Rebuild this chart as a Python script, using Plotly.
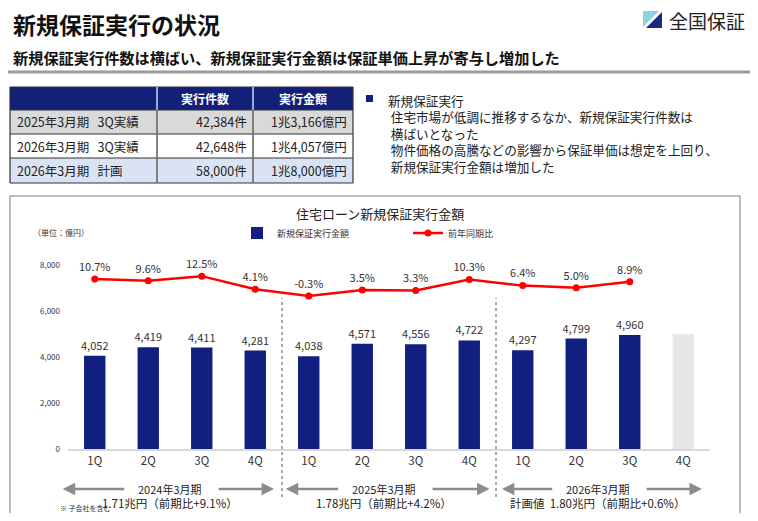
import plotly.graph_objects as go

W, H = 758, 521
# the page body keeps its default 8px margin, so the figure is drawn smaller and offset
OFF = 8
FW, FH = W - 2 * OFF, H - 2 * OFF
FONT = "Noto Sans CJK JP"
NAVY = "#101f80"

# chart data
fiscal_years = ["2024年3月期", "2025年3月期", "2026年3月期"]
quarters = ["1Q", "2Q", "3Q", "4Q"]
amounts = [4052, 4419, 4411, 4281, 4038, 4571, 4556, 4722, 4297, 4799, 4960]
plan_4q = 4990
yoy = [10.7, 9.6, 12.5, 4.1, -0.3, 3.5, 3.3, 10.3, 6.4, 5.0, 8.9]
year_totals = ["1.71兆円（前期比+9.1%）", "1.78兆円（前期比+4.2%）", "計画値  1.80兆円（前期比+0.6%）"]

# table data
table_header = ["", "実行件数", "実行金額"]
table_rows = [
    ["2025年3月期   3Q実績", "42,384件", "1兆3,166億円"],
    ["2026年3月期   3Q実績", "42,648件", "1兆4,057億円"],
    ["2026年3月期   計画", "58,000件", "1兆8,000億円"],
]
row_colors = ["#d9d9d9", "#ffffff", "#dae3f3"]

comment_lines = [
    "新規保証実行",
    "住宅市場が低調に推移するなか、新規保証実行件数は",
    "横ばいとなった",
    "物件価格の高騰などの影響から保証単価は想定を上回り、",
    "新規保証実行金額は増加した",
]

cats = [f"{fy} {q}" for fy in fiscal_years for q in quarters]


def px(x):
    return (x - OFF) / FW


def py(y):
    return 1 - (y - OFF) / FH


fig = go.Figure()

fig.add_trace(go.Bar(
    x=cats[:len(amounts)], y=amounts, name="新規保証実行金額",
    marker=dict(color=NAVY, line=dict(width=0)),
    text=[f"{v:,}" for v in amounts], textposition="outside", constraintext="none",
    textfont=dict(size=11, color="#333333"), cliponaxis=False,
    legend="legend",
))
fig.add_trace(go.Bar(
    x=[cats[-1]], y=[plan_4q], showlegend=False,
    marker=dict(color="#e6e6e6", line=dict(width=0)),
))
fig.add_trace(go.Scatter(
    x=cats[:len(yoy)], y=yoy, yaxis="y2", name="前年同期比",
    mode="lines+markers+text",
    line=dict(color="#ff0000", width=2.5),
    marker=dict(color="#ff0000", size=7),
    text=[f"{v}%" for v in yoy], textposition="top center",
    textfont=dict(size=11, color="#333333"), cliponaxis=False,
    legend="legend2",
))

fig.update_layout(
    width=FW, height=FH, margin=dict(l=0, r=0, t=0, b=0, autoexpand=False),
    paper_bgcolor="white", plot_bgcolor="white",
    font=dict(family=FONT, color="#222222"),
    barmode="overlay", bargap=0.6,
    xaxis=dict(domain=[px(68), px(710)], range=[-0.5, len(cats) - 0.5],
               tickvals=cats, ticktext=quarters * 3,
               showline=True, linecolor="#d9d9d9", linewidth=2, automargin=False,
               tickfont=dict(size=11.5, color="#333333"), ticks="",
               showgrid=False),
    yaxis=dict(domain=[py(449), py(265)], range=[0, 8000], tickvals=[0, 2000, 4000, 6000, 8000],
               tickformat=",", tickfont=dict(size=8, color="#333333"), automargin=False,
               showgrid=False, zeroline=False, ticklen=0, ticklabelstandoff=7),
    yaxis2=dict(overlaying="y", range=[-99, 19.7], visible=False),
    legend=dict(x=px(237), y=py(233), xanchor="left", yanchor="middle",
                font=dict(size=9, color="#333333"), bgcolor="rgba(0,0,0,0)"),
    legend2=dict(x=px(408), y=py(233), xanchor="left", yanchor="middle",
                 font=dict(size=9, color="#333333"), bgcolor="rgba(0,0,0,0)"),
    showlegend=True,
)

shapes = []
ann = []

# header
ann.append(dict(x=px(11), y=py(24), text="<b>新規保証実行の状況</b>", font=dict(size=23, color="#111111")))
ann.append(dict(x=px(11), y=py(57),
                text="<b>新規保証実行件数は横ばい、新規保証実行金額は保証単価上昇が寄与し増加した</b>",
                font=dict(size=15.2, color="#111111")))
shapes.append(dict(type="line", xref="paper", yref="paper", x0=0, x1=1, y0=py(72), y1=py(72),
                   line=dict(color="#9a9a9a", width=3)))

# logo
shapes.append(dict(type="path", xref="paper", yref="paper",
                   path=f"M {px(643)} {py(11)} L {px(659)} {py(11)} L {px(643)} {py(27)} Z",
                   fillcolor="#8fd0e6", line=dict(width=0)))
shapes.append(dict(type="path", xref="paper", yref="paper",
                   path=f"M {px(662)} {py(12)} L {px(662)} {py(28)} L {px(646)} {py(28)} Z",
                   fillcolor="#1a2a80", line=dict(width=0)))
ann.append(dict(x=px(667), y=py(20), text="全国保証", font=dict(size=19, color="#222222")))

# table
col_edges = [10, 157, 253, 353]
row_edges = [87, 110, 134, 158, 183]
shapes.append(dict(type="rect", xref="paper", yref="paper", x0=px(10), x1=px(353),
                   y0=py(110), y1=py(87), fillcolor="#13207a", line=dict(width=0)))
for i, c in enumerate(row_colors):
    shapes.append(dict(type="rect", xref="paper", yref="paper", x0=px(10), x1=px(353),
                       y0=py(row_edges[i + 2]), y1=py(row_edges[i + 1]), fillcolor=c, line=dict(width=0)))
for ye in row_edges:
    shapes.append(dict(type="line", xref="paper", yref="paper", x0=px(10), x1=px(353), y0=py(ye), y1=py(ye),
                       line=dict(color="#333333", width=1.2)))
for xe in col_edges:
    shapes.append(dict(type="line", xref="paper", yref="paper", x0=px(xe), x1=px(xe), y0=py(87), y1=py(183),
                       line=dict(color="#ffffff" if xe in (157, 253) else "#333333", width=1.2)))
    if xe in (157, 253):
        shapes.append(dict(type="line", xref="paper", yref="paper", x0=px(xe), x1=px(xe), y0=py(110), y1=py(183),
                           line=dict(color="#333333", width=1.2)))
for j, h in enumerate(table_header[1:]):
    ann.append(dict(x=px((col_edges[j + 1] + col_edges[j + 2]) / 2), y=py(98.5), xanchor="center",
                    text=f"<b>{h}</b>", font=dict(size=12, color="white")))
for i, row in enumerate(table_rows):
    yc = py((row_edges[i + 1] + row_edges[i + 2]) / 2)
    ann.append(dict(x=px(15), y=yc, text=row[0], font=dict(size=12.5, color="#222222")))
    ann.append(dict(x=px(249), y=yc, xanchor="right", text=row[1], font=dict(size=12.5, color="#222222")))
    ann.append(dict(x=px(349), y=yc, xanchor="right", text=row[2], font=dict(size=12.5, color="#222222")))

# commentary
shapes.append(dict(type="rect", xref="paper", yref="paper", x0=px(366), x1=px(373), y0=py(102), y1=py(95),
                   fillcolor="#13207a", line=dict(width=0)))
ann.append(dict(x=px(386), y=py(89), yanchor="top", align="left",
                text=comment_lines[0] + "".join("<br> " + s for s in comment_lines[1:]),
                font=dict(size=12.6, color="#222222")))

# chart frame and texts
shapes.append(dict(type="rect", xref="paper", yref="paper", x0=px(10), x1=px(740), y0=py(535), y1=py(196),
                   line=dict(color="#a6a6a6", width=1.5), fillcolor="rgba(0,0,0,0)"))
ann.append(dict(x=px(380), y=py(213), xanchor="center", text="住宅ローン新規保証実行金額",
                font=dict(size=13, color="#222222")))
ann.append(dict(x=px(31), y=py(233), text="（単位：億円）", font=dict(size=8, color="#333333")))
ann.append(dict(x=px(58), y=py(507.5), text="※ 子会社を含む", font=dict(size=7, color="#333333")))

# period separators, arrows and totals
for k in (3.5, 7.5):
    shapes.append(dict(type="line", xref="x", yref="paper", x0=k, x1=k, y0=py(497), y1=py(298),
                       line=dict(color="#555555", width=1, dash="dot")))
arrow_ends = [(-0.6, 3.35), (-0.43, 3.38), (-0.39, 3.35)]
for i, fy in enumerate(fiscal_years):
    c = i * 4 + 1.4
    ann.append(dict(x=c, xref="x", y=py(489), xanchor="center", text=fy, showarrow=False,
                    font=dict(size=11, color="#222222")))
    ann.append(dict(x=c, xref="x", y=py(503), xanchor="center", text=year_totals[i], showarrow=False,
                    font=dict(size=11.5, color="#222222")))
    lo, hi = arrow_ends[i]
    for tail, head in ((c - 0.85, i * 4 + lo), (c + 0.85, i * 4 + hi)):
        ann.append(dict(x=head, xref="x", y=py(489), ax=tail, axref="x", ay=0, ayref="pixel",
                        text="", showarrow=True, arrowhead=2, arrowsize=1, arrowwidth=2.5,
                        arrowcolor="#8c8c8c"))

for a in ann:
    a.setdefault("xref", "paper")
    a.setdefault("yref", "paper")
    a.setdefault("xanchor", "left")
    a.setdefault("yanchor", "middle")
    a.setdefault("showarrow", False)

fig.update_layout(shapes=shapes, annotations=ann)
fig.write_html("out.html")
